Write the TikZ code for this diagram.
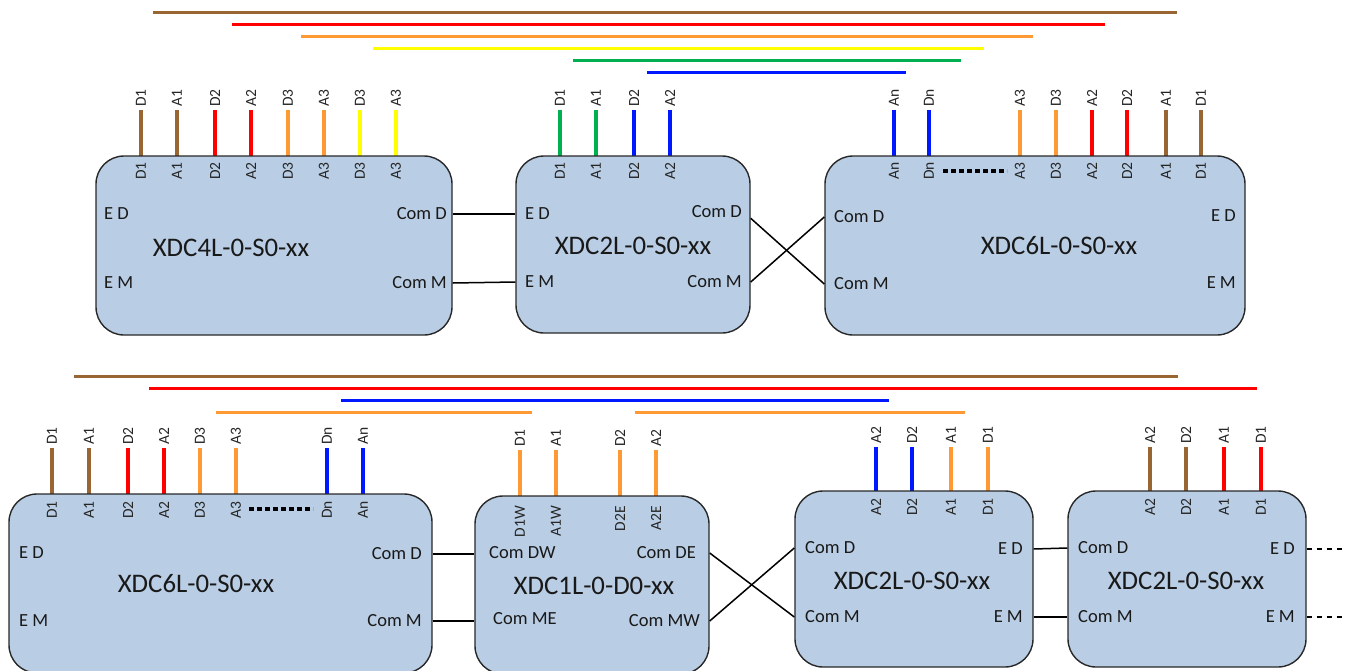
\documentclass[tikz,border=0pt]{standalone}
\usepackage{fontspec}
\setmainfont{Carlito}
\definecolor{brownw}{RGB}{153,102,51}
\definecolor{redw}{RGB}{255,0,0}
\definecolor{orangew}{RGB}{255,153,51}
\definecolor{yelloww}{RGB}{255,255,0}
\definecolor{greenw}{RGB}{0,176,80}
\definecolor{bluew}{RGB}{0,24,255}
\definecolor{boxfill}{RGB}{185,205,228}
\definecolor{boxline}{RGB}{40,40,40}
\tikzset{
  box/.style={draw=boxline, fill=boxfill, line width=1.4pt, rounded corners=28pt, inner sep=0pt},
  pinline/.style={line width=4pt},
  pinlab/.style={rotate=90, inner sep=0pt, font=\fontsize{15.5}{15.5}\selectfont, text=black!85},
  portlab/.style={inner sep=0pt, font=\fontsize{18.5}{18.5}\selectfont, text=black!90},
  boxtitle/.style={inner sep=0pt, font=\fontsize{26.8}{26.8}\selectfont, text=black!90},
  bar/.style={line width=3pt},
  wire/.style={line width=1.5pt, draw=black},
  dotline/.style={line width=4pt, dash pattern=on 4.8pt off 3.2pt},
  dashwire/.style={line width=1.3pt, dash pattern=on 5pt off 5pt}
}
\newcommand\mypin[8]{%
  \coordinate (#1t) at (#2,#3);
  \coordinate (#1b) at (#2,#4);
  \draw[pinline,draw=#5] (#1t) -- (#1b);
  \node[pinlab,anchor=west] (#1l) at (#2,#3-3) {#6};
}
\begin{document}
\begin{tikzpicture}[x=1pt,y=-1pt]
\useasboundingbox (0,0) rectangle (1345,670);
\clip (0,0) rectangle (1345,670);

% ---------- top bars ----------
\draw[bar,brownw]  (153,12) -- (1177,12);
\draw[bar,redw]    (232,24) -- (1105,24);
\draw[bar,orangew] (301,36) -- (1033,36);
\draw[bar,yelloww] (373,48) -- (984,48);
\draw[bar,greenw]  (573,60) -- (961,60);
\draw[bar,bluew]   (647,72) -- (906,72);

% ---------- bottom bars ----------
\draw[bar,brownw]  (74,376) -- (1178,376);
\draw[bar,redw]    (149,388) -- (1257,388);
\draw[bar,bluew]   (341,400) -- (889,400);
\draw[bar,orangew] (216,412) -- (532,412);
\draw[bar,orangew] (635,412) -- (965,412);

% ---------- pins (drawn under boxes) ----------
\foreach \x/\c/\t [count=\i] in {141/brownw/D1,177/brownw/A1,215/redw/D2,251/redw/A2,288/orangew/D3,324/orangew/A3,360/yelloww/D3,396/yelloww/A3}
  {\mypin{pa\i}{\x}{110}{156}{\c}{\t}{\t}{7}}
\foreach \x/\c/\t [count=\i] in {560/greenw/D1,596/greenw/A1,634/bluew/D2,670/bluew/A2}
  {\mypin{pb\i}{\x}{110}{156}{\c}{\t}{\t}{7}}
\foreach \x/\c/\t [count=\i] in {894/bluew/An,929/bluew/Dn,1020/orangew/A3,1056/orangew/D3,1092/redw/A2,1127/redw/D2,1166/brownw/A1,1201/brownw/D1}
  {\mypin{pc\i}{\x}{110}{156}{\c}{\t}{\t}{7}}
\foreach \x/\c/\t [count=\i] in {52/brownw/D1,89/brownw/A1,128/redw/D2,164/redw/A2,200/orangew/D3,236/orangew/A3,327/bluew/Dn,363/bluew/An}
  {\mypin{pd\i}{\x}{448}{494}{\c}{\t}{\t}{8}}
\foreach \x/\t/\u [count=\i] in {520/D1/D1W,556/A1/A1W,620/D2/D2E,656/A2/A2E}
  {\mypin{pe\i}{\x}{450}{496}{orangew}{\t}{\u}{11}}
\foreach \x/\c/\t [count=\i] in {876/bluew/A2,912/bluew/D2,951/orangew/A1,988/orangew/D1}
  {\mypin{pf\i}{\x}{447}{491}{\c}{\t}{\t}{8}}
\foreach \x/\c/\t [count=\i] in {1150/brownw/A2,1186/brownw/D2,1224/redw/A1,1261/redw/D1}
  {\mypin{pg\i}{\x}{447}{491}{\c}{\t}{\t}{8}}

% ---------- boxes ----------
\node[box, minimum width=356pt, minimum height=179pt] (b1) at (274,245.5) {};
\node[box, minimum width=234pt, minimum height=177pt] (b2) at (633,244.5) {};
\node[box, minimum width=420pt, minimum height=179pt] (b3) at (1035,245.5) {};
\node[box, minimum width=423pt, minimum height=179pt] (b4) at (220.5,583.5) {};
\node[box, minimum width=234pt, minimum height=178pt] (b5) at (592,585) {};
\node[box, minimum width=238pt, minimum height=176pt] (b6) at (914,579) {};
\node[box, minimum width=238pt, minimum height=176pt] (b7) at (1187,579) {};

% inner pin labels
\foreach \x/\t [count=\i] in {141/D1,177/A1,215/D2,251/A2,288/D3,324/A3,360/D3,396/A3,560/D1,596/A1,634/D2,670/A2,894/An,929/Dn,1020/A3,1056/D3,1092/A2,1127/D2,1166/A1,1201/D1}
  {\node[pinlab,anchor=east] (iu\i) at (\x,162) {\t};}
\foreach \x/\t [count=\i] in {52/D1,89/A1,128/D2,164/A2,200/D3,236/A3,327/Dn,363/An}
  {\node[pinlab,anchor=east] (id\i) at (\x,501) {\t};}
\foreach \x/\t [count=\i] in {520/D1W,556/A1W,620/D2E,656/A2E}
  {\node[pinlab,anchor=east] (ie\i) at (\x,506) {\t};}
\foreach \x/\t [count=\i] in {876/A2,912/D2,951/A1,988/D1,1150/A2,1186/D2,1224/A1,1261/D1}
  {\node[pinlab,anchor=east] (if\i) at (\x,498) {\t};}

% dotted continuation marks
\coordinate (dl1) at (943,171); \coordinate (dl2) at (1007,171);
\draw[dotline] (dl1) -- (dl2);
\coordinate (dl3) at (249,509); \coordinate (dl4) at (313,509);
\draw[dotline] (dl3) -- (dl4);

% ---------- titles ----------
\node[boxtitle] (t1) at (231,248) {XDC4L-0-S0-xx};
\node[boxtitle] (t2) at (633,246) {XDC2L-0-S0-xx};
\node[boxtitle] (t3) at (1059,246) {XDC6L-0-S0-xx};
\node[boxtitle] (t4) at (196,584) {XDC6L-0-S0-xx};
\node[boxtitle] (t5) at (594,586) {XDC1L-0-D0-xx};
\node[boxtitle] (t6) at (912,581) {XDC2L-0-S0-xx};
\node[boxtitle] (t7) at (1186,581) {XDC2L-0-S0-xx};

% ---------- port labels ----------
\node[portlab,anchor=west] (l1a) at (104,214) {E D};
\node[portlab,anchor=west] (l1b) at (104,283) {E M};
\node[portlab,anchor=east] (l1c) at (447,214) {Com D};
\node[portlab,anchor=east] (l1d) at (447,283) {Com M};

\node[portlab,anchor=west] (l2a) at (525,214) {E D};
\node[portlab,anchor=west] (l2b) at (525,282) {E M};
\node[portlab,anchor=east] (l2c) at (742,212) {Com D};
\node[portlab,anchor=east] (l2d) at (742,282) {Com M};

\node[portlab,anchor=west] (l3a) at (834,217) {Com D};
\node[portlab,anchor=west] (l3b) at (834,284) {Com M};
\node[portlab,anchor=east] (l3c) at (1236,216) {E D};
\node[portlab,anchor=east] (l3d) at (1236,283) {E M};

\node[portlab,anchor=west] (l4a) at (19,553) {E D};
\node[portlab,anchor=west] (l4b) at (19,621) {E M};
\node[portlab,anchor=east] (l4c) at (422,554) {Com D};
\node[portlab,anchor=east] (l4d) at (422,621) {Com M};

\node[portlab,anchor=west] (l5a) at (489,553) {Com DW};
\node[portlab,anchor=west] (l5b) at (493,619) {Com ME};
\node[portlab,anchor=east] (l5c) at (696,553) {Com DE};
\node[portlab,anchor=east] (l5d) at (700,621) {Com MW};

\node[portlab,anchor=west] (l6a) at (805,548) {Com D};
\node[portlab,anchor=west] (l6b) at (805,617) {Com M};
\node[portlab,anchor=east] (l6c) at (1023,549) {E D};
\node[portlab,anchor=east] (l6d) at (1023,617) {E M};

\node[portlab,anchor=west] (l7a) at (1078,548) {Com D};
\node[portlab,anchor=west] (l7b) at (1078,617) {Com M};
\node[portlab,anchor=east] (l7c) at (1295,549) {E D};
\node[portlab,anchor=east] (l7d) at (1295,617) {E M};

% ---------- connectors ----------
\draw[wire] (b1.east |- l1c) -- (b2.west |- l2a);
\draw[wire] (b1.east |- l1d) -- (b2.west |- l2b);
\draw[wire] (b2.east |- l2c.south) -- (b3.west |- l3b);
\draw[wire] (b2.east |- l2d) -- (b3.west |- l3a);

\draw[wire] (b4.east |- l4c) -- (b5.west |- l4c);
\draw[wire] (b4.east |- l4d) -- (b5.west |- l4d);
\draw[wire] (b5.east |- l5c) -- (b6.west |- l6b);
\draw[wire] (b5.east |- l5d) -- (b6.west |- l6a);
\draw[wire] (b6.east |- l6c) -- (b7.west |- l7a);
\draw[wire] (b6.east |- l6d) -- (b7.west |- l7b);

\coordinate (end1) at (1345,549);
\coordinate (end2) at (1345,617);
\draw[dashwire] (b7.east |- l7c) -- (end1);
\draw[dashwire] (b7.east |- l7d) -- (end2);
\end{tikzpicture}
\end{document}
